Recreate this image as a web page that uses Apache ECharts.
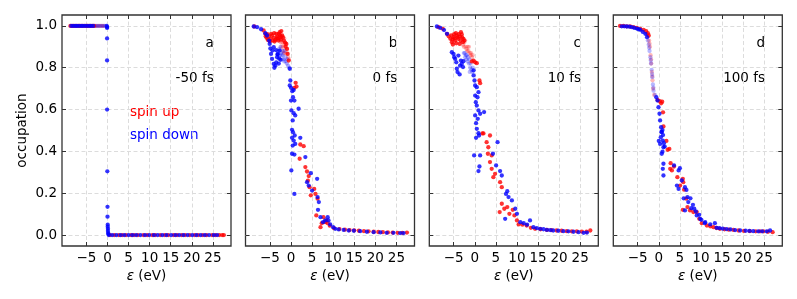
<!DOCTYPE html>
<html><head><meta charset="utf-8">
<script src="https://cdn.jsdelivr.net/npm/echarts@6/dist/echarts.min.js"></script>
<style>html,body{margin:0;padding:0;background:#fff}#c{width:797px;height:299px}</style>
</head><body><div id="c"></div>
<script>
// ---------- data ----------
const xTicks = [-5, 0, 5, 10, 15, 20, 25];
const yTicks = [0, 0.2, 0.4, 0.6, 0.8, 1.0];
const panelLetters = ['a', 'b', 'c', 'd'];
const panelTimes = ['-50 fs', '0 fs', '10 fs', '100 fs'];
const legendNames = ['spin up', 'spin down'];

// panel a (-50 fs)
const upA = [[-8.8,1],[-8.3,1],[-7.9,1],[-7.4,1],[-6.9,1],[-6.5,1],[-6.0,1],[-5.5,1],[-5.0,1],[-4.6,1],[-4.1,1],[-3.6,1],[-3.2,1],
 [0.6,0],[1.6,0],[2.7,0],[3.5,0],[4.4,0],[5.6,0],[6.3,0],[7.2,0],[8.5,0],[9.4,0],[10.6,0],[11.3,0],[12.5,0],[13.6,0],[14.4,0],[15.7,0],[16.5,0],[17.6,0],[18.4,0],[19.5,0],[20.7,0],[21.5,0],[22.6,0],[23.5,0],[24.8,0],[25.6,0],[26.5,0],[27.2,0],[27.6,0]];
const downA = [[-8.6,1],[-8.1,1],[-7.6,1],[-7.2,1],[-6.7,1],[-6.2,1],[-5.8,1],[-5.3,1],[-4.8,1],[-4.3,1],[-3.9,1],[-3.4,1],
 [-0.2,1],[-0.1,0.995],[-0.1,0.99],[-0.1,0.94],[-0.1,0.835],[-0.1,0.6],[-0.05,0.305],[0,0.135],[0,0.088],[0.05,0.05],[0.05,0.04],[0.1,0.03],[0.1,0.02],[0.15,0.01],[0.2,0.005],
 [0.3,0],[1.1,0],[2.1,0],[3.1,0],[4.0,0],[5.0,0],[5.9,0],[6.8,0],[7.8,0],[8.9,0],[9.9,0],[11.0,0],[11.9,0],[13.0,0],[14.0,0],[15.1,0],[16.1,0],[17.0,0],[18.0,0],[19.0,0],[20.1,0],[21.1,0],[22.1,0],[23.1,0],[24.1,0],[25.2,0],[26.0,0]];
const upFadedA = [[-2.8,1],[-2.4,1],[-2.0,1],[-1.6,1],[-1.2,1],[-0.8,1]];
const downFadedA = [[-3.0,1],[-2.6,1],[-2.2,1],[-1.8,1],[-1.4,1],[-1.0,1],[-0.6,1]];

// panel b (0 fs)
const upB = [[-8.7,0.997],[-6.5,0.978],[-6.1,0.962],[-6.0,0.95],[-5.8,0.943],[-5.6,0.96],[-5.5,0.933],[-5.3,0.95],[-5.0,0.925],[-4.9,0.938],[-4.7,0.962],[-4.5,0.954],[-4.3,0.93],[-4.1,0.943],[-4.0,0.965],[-3.9,0.925],[-3.7,0.933],[-3.5,0.962],[-3.4,0.94],[-3.3,0.95],[-3.1,0.94],[-3.0,0.93],[-2.9,0.962],[-2.7,0.97],[-2.6,0.955],[-2.5,0.946],[-2.4,0.935],[-2.3,0.975],[-2.1,0.954],[-1.9,0.945],[-1.7,0.93],[-1.4,0.92],[-1.3,0.9],[-1.1,0.914],[-0.95,0.89],[-0.8,0.866],[-0.55,0.834],
 [0.8,0.704],[1.1,0.728],[1.3,0.71],[2.2,0.433],[3.0,0.425],[2.05,0.365],[3.4,0.325],[3.8,0.304],[4.2,0.282],[4.0,0.26],[4.4,0.229],[4.7,0.19],[5.5,0.221],[5.8,0.197],[6.3,0.174],[6.0,0.094],[7.0,0.038],[7.3,0.057],[7.7,0.086],[8.1,0.062],[8.4,0.07],[8.7,0.057],[9.2,0.045],
 [10.2,0.033],[11.5,0.029],[12.8,0.026],[13.9,0.024],[15.0,0.023],[16.1,0.021],[17.3,0.019],[18.4,0.018],[19.6,0.016],[20.7,0.015],[21.8,0.014],[23.0,0.013],[24.1,0.012],[25.3,0.011],[26.4,0.011],[27.5,0.012]];
const downB = [[-8.85,0.997],[-8.06,0.994],[-7.1,0.984],[-6.1,0.965],[-5.7,0.954],[-5.2,0.93],[-5.06,0.914],[-4.9,0.892],[-4.74,0.866],[-4.5,0.842],[-4.4,0.882],[-4.1,0.818],[-4.1,0.898],[-3.95,0.8],[-3.7,0.81],[-3.55,0.884],[-3.5,0.826],[-3.3,0.85],[-3.2,0.863],[-3.16,0.866],[-2.9,0.82],[-2.8,0.844],[-2.7,0.882],[-2.5,0.838],
 [-0.3,0.795],[-0.16,0.739],[-0.3,0.715],[0.0,0.704],[0.3,0.688],[0.63,0.694],[0.47,0.659],[0.0,0.643],[0.8,0.643],[0.08,0.596],[0.63,0.583],[1.0,0.572],[1.8,0.604],[0.4,0.548],[0.24,0.503],[0.47,0.492],[0.87,0.476],[0.24,0.465],[0.63,0.452],[0.4,0.428],[1.0,0.436],[0.24,0.389],[0.8,0.385],[0.08,0.309],[0.8,0.197],
 [2.2,0.465],[3.4,0.373],[3.8,0.253],[4.2,0.237],[4.7,0.296],[5.0,0.213],[6.2,0.269],[6.3,0.182],[6.6,0.158],[6.4,0.121],[7.0,0.086],[7.6,0.062],[8.1,0.07],[8.7,0.086],[8.9,0.07],[9.3,0.051],[10.0,0.038],[10.5,0.03],[11.3,0.027],[12.5,0.025],[13.7,0.022],[14.9,0.021],[16.4,0.019],[18.0,0.016],[19.6,0.014],[21.2,0.013],[22.7,0.011],[24.3,0.011],[25.9,0.01],[26.7,0.01]];
const upFadedB = [[-2.8,0.94],[-2.6,0.93],[-2.4,0.92],[-2.3,0.9],[-2.2,0.95],[-2.0,0.92],[-1.9,0.9],[-1.8,0.88],[-1.7,0.87],[-1.6,0.94],[-1.5,0.91],[-1.3,0.87],[-1.2,0.91],[-1.0,0.89],[-0.9,0.87],[-0.7,0.85],[-0.5,0.84]];
const downFadedB = [[-3.0,0.88],[-2.8,0.89],[-2.7,0.86],[-2.5,0.9],[-2.4,0.87],[-2.2,0.86],[-2.1,0.84],[-2.0,0.88],[-1.9,0.86],[-1.8,0.84],[-1.6,0.83],[-1.5,0.88],[-1.3,0.85],[-1.2,0.83],[-1.0,0.82],[-0.9,0.84],[-0.7,0.81],[-0.4,0.8]];

// panel c (10 fs)
const upC = [[-8.6,0.994],[-7.6,0.986],[-6.6,0.962],[-6.2,0.95],[-5.8,0.938],[-5.6,0.955],[-5.45,0.922],[-5.3,0.935],[-5.2,0.911],[-5.05,0.946],[-4.9,0.96],[-4.8,0.94],[-4.66,0.93],[-4.5,0.965],[-4.4,0.917],[-4.27,0.954],[-4.1,0.945],[-3.9,0.938],[-3.8,0.96],[-3.6,0.914],[-3.5,0.949],[-3.4,0.93],[-3.3,0.97],[-3.1,0.959],[-3.0,0.945],[-2.84,0.922],[-2.7,0.938],[-2.5,0.93],
 [-0.7,0.83],[-0.3,0.834],[0.08,0.826],[0.47,0.822],[1.1,0.739],[1.26,0.726],
 [1.8,0.486],[2.05,0.486],[2.8,0.444],[3.6,0.476],[3.2,0.42],[3.1,0.389],[4.0,0.381],[3.6,0.349],[4.0,0.317],[4.4,0.277],[4.8,0.293],[6.0,0.253],[6.4,0.229],[6.4,0.15],[5.9,0.11],[7.0,0.126],[7.7,0.134],[8.2,0.102],[9.0,0.121],[9.4,0.094],[10.0,0.07],[10.4,0.051],[11.3,0.05],[12.3,0.046],[13.3,0.035],[14.3,0.03],[15.6,0.028],[17.1,0.025],[18.2,0.024],[19.4,0.022],[20.6,0.021],[21.8,0.019],[23.0,0.018],[24.2,0.018],[25.4,0.017],[26.5,0.016],[27.4,0.022]];
const downC = [[-9.0,0.997],[-8.2,0.99],[-7.3,0.98],[-6.6,0.962],[-5.45,0.874],[-5.05,0.866],[-4.9,0.85],[-4.66,0.842],[-4.4,0.826],[-4.27,0.795],[-4.1,0.779],[-3.9,0.858],[-3.6,0.768],[-3.5,0.81],[-3.3,0.834],[-3.1,0.818],[-2.8,0.803],[-2.7,0.831],
 [-0.3,0.787],[-0.3,0.763],[-0.08,0.739],[0.08,0.715],[0.47,0.707],[0.87,0.683],[0.08,0.667],[0.63,0.659],[0.24,0.635],[0.47,0.619],[0.87,0.596],[0.08,0.572],[0.7,0.556],[0.3,0.535],[1.26,0.58],[2.2,0.588],[0.47,0.508],[0.87,0.487],[0.3,0.465],[1.0,0.476],[-0.16,0.381],[1.26,0.381],[1.1,0.328],[0.87,0.306],
 [5.4,0.444],[4.3,0.389],[5.05,0.333],[6.0,0.306],[6.4,0.285],[7.7,0.21],[7.4,0.197],[8.0,0.182],[7.2,0.078],[8.8,0.166],[9.6,0.126],[10.0,0.102],[10.8,0.062],[11.6,0.057],[13.1,0.07],[12.4,0.05],[13.9,0.038],[14.7,0.033],[15.5,0.03],[16.3,0.028],[17.1,0.025],[17.9,0.024],[18.6,0.022],[19.8,0.021],[21.0,0.019],[22.2,0.018],[23.4,0.016],[24.6,0.014],[25.8,0.011],[26.6,0.012]];
const upFadedC = [[-2.8,0.91],[-2.6,0.9],[-2.5,0.92],[-2.3,0.93],[-2.2,0.9],[-2.0,0.89],[-1.8,0.88],[-1.7,0.9],[-1.5,0.88],[-1.4,0.9],[-1.2,0.87],[-1.0,0.86],[-0.9,0.87],[-0.7,0.85],[-0.5,0.86]];
const downFadedC = [[-2.6,0.87],[-2.4,0.87],[-2.3,0.85],[-2.1,0.86],[-2.0,0.84],[-1.9,0.86],[-1.7,0.83],[-1.6,0.85],[-1.4,0.82],[-1.3,0.84],[-1.2,0.78],[-1.1,0.8],[-1.0,0.82],[-0.8,0.79],[-0.6,0.78],[-0.5,0.8]];

// panel d (100 fs)
const upD = [[-9.2,1.0],[-8.4,1.0],[-7.6,0.998],[-6.8,0.997],[-6.0,0.994],[-5.2,0.99],[-4.4,0.986],[-3.6,0.981],[-3.0,0.975],[-2.6,0.965],[-2.4,0.954],
 [-0.3,0.646],[0.24,0.64],[0.55,0.63],[0.8,0.638],[1.0,0.587],[1.1,0.519],[1.8,0.45],[2.1,0.408],[2.5,0.412],[2.8,0.344],[2.7,0.317],[3.6,0.328],[3.1,0.309],[4.4,0.277],[5.7,0.269],[5.8,0.253],[5.05,0.237],[6.0,0.217],[6.5,0.174],[5.7,0.121],[6.8,0.134],[7.4,0.118],[8.2,0.11],[9.0,0.11],[9.6,0.078],[10.2,0.057],[11.4,0.046],[12.2,0.042],[12.95,0.038],[13.7,0.034],[14.5,0.03],[15.6,0.028],[16.6,0.026],[17.7,0.025],[18.9,0.022],[20.2,0.02],[21.6,0.019],[23.0,0.018],[24.0,0.018],[24.8,0.018],[25.9,0.016],[27.0,0.014]];
const downD = [[-8.8,0.998],[-8.2,0.998],[-7.6,0.997],[-7.0,0.996],[-6.4,0.994],[-5.8,0.99],[-5.2,0.987],[-4.8,0.984],[-4.4,0.981],[-3.8,0.971],[-3.2,0.962],[-2.8,0.946],
 [-0.6,0.659],[-0.3,0.643],[-0.08,0.611],[0.16,0.58],[0.3,0.548],[0.55,0.516],[0.7,0.492],[0.47,0.468],[0.95,0.452],[0.3,0.436],[1.1,0.42],[0.7,0.389],[1.1,0.341],[0.95,0.317],[1.1,0.285],[0.63,0.494],[0.87,0.502],[1.0,0.478],[0.0,0.45],[1.2,0.439],[1.4,0.423],[0.87,0.399],
 [3.6,0.333],[4.7,0.309],[4.3,0.237],[4.7,0.221],[5.45,0.261],[5.0,0.32],[6.2,0.229],[6.55,0.216],[5.9,0.176],[6.8,0.182],[7.0,0.158],[7.5,0.176],[7.7,0.129],[6.2,0.118],[8.1,0.145],[8.4,0.126],[8.8,0.113],[9.0,0.094],[9.6,0.097],[9.8,0.078],[10.1,0.073],[10.9,0.057],[11.0,0.062],[12.2,0.051],[13.3,0.057],[13.7,0.035],[14.4,0.033],[15.2,0.031],[16.1,0.029],[17.0,0.027],[18.1,0.024],[19.3,0.022],[20.6,0.021],[21.5,0.02],[22.4,0.019],[23.6,0.018],[24.5,0.018],[25.6,0.018],[26.4,0.022]];
const upFadedD = [[-2.5,0.95],[-2.3,0.93],[-2.2,0.915],[-2.1,0.9],[-1.95,0.86],[-1.85,0.84],[-1.8,0.82],[-1.65,0.78],[-1.55,0.76],[-1.5,0.74],[-1.35,0.7],[-1.1,0.67]];
const downFadedD = [[-2.9,0.96],[-2.6,0.93],[-2.4,0.91],[-2.3,0.895],[-2.2,0.88],[-2.0,0.85],[-1.9,0.835],[-1.85,0.82],[-1.7,0.79],[-1.6,0.77],[-1.55,0.755],[-1.4,0.72],[-1.3,0.705],[-1.25,0.69],[-0.9,0.67]];

const upSets = [upA, upB, upC, upD];
const downSets = [downA, downB, downC, downD];
const upFadedSets = [upFadedA, upFadedB, upFadedC, upFadedD];
const downFadedSets = [downFadedA, downFadedB, downFadedC, downFadedD];

// ---------- layout / style ----------
const FONT = 'DejaVu Sans';
const FS = 13.5;
const RED = '#ff0000', BLUE = '#0000ff';
const XMIN = -10.8, XMAX = 29.3, YMIN = -0.052, YMAX = 1.052;
const lefts = [62, 245.5, 429.3, 613.3];
const W = 169, TOP = 15, H = 231;
const FRAME = '#333333';

const fmtX = v => v < 0 ? '\u2212' + Math.abs(v) : String(v);
const fmtY = v => v.toFixed(1);

const grids = [], xAxes = [], yAxes = [], series = [], graphics = [];
lefts.forEach((l, i) => {
  grids.push({ left: l, top: TOP, width: W, height: H, show: true, borderColor: FRAME, borderWidth: 1.3, backgroundColor: 'transparent' });
  const tick = { show: true, inside: true, length: 4, lineStyle: { color: FRAME, width: 1 } };
  const noLine = { show: false, onZero: false };
  xAxes.push({
    gridIndex: i, type: 'value', min: XMIN, max: XMAX, position: 'bottom',
    axisLine: noLine,
    axisTick: Object.assign({ customValues: xTicks }, tick),
    axisLabel: { show: true, customValues: xTicks, formatter: fmtX, margin: 5, color: '#000', fontSize: FS, fontFamily: FONT },
    splitLine: { show: true, lineStyle: { color: '#dcdcdc', width: 1, type: [4, 2.5] } },
    name: '{i|\u03b5} (eV)', nameLocation: 'middle', nameGap: 21,
    nameTextStyle: { color: '#000', fontSize: FS, fontFamily: FONT, rich: { i: { fontStyle: 'italic', fontSize: FS, fontFamily: FONT, color: '#000' } } }
  });
  xAxes.push({
    gridIndex: i, type: 'value', min: XMIN, max: XMAX, position: 'top',
    axisLine: noLine,
    axisTick: Object.assign({ customValues: xTicks }, tick),
    axisLabel: { show: false }, splitLine: { show: false }
  });
  yAxes.push({
    gridIndex: i, type: 'value', min: YMIN, max: YMAX, position: 'left',
    axisLine: noLine,
    axisTick: Object.assign({ customValues: yTicks }, tick),
    axisLabel: { show: i === 0, customValues: yTicks, formatter: fmtY, margin: 5, color: '#000', fontSize: FS, fontFamily: FONT },
    splitLine: { show: true, lineStyle: { color: '#dcdcdc', width: 1, type: [4, 2.5] } }
  });
  yAxes.push({
    gridIndex: i, type: 'value', min: YMIN, max: YMAX, position: 'right',
    axisLine: noLine,
    axisTick: Object.assign({ customValues: yTicks }, tick),
    axisLabel: { show: false }, splitLine: { show: false }
  });
  const base = { type: 'scatter', xAxisIndex: 2 * i, yAxisIndex: 2 * i, symbol: 'circle', symbolSize: 4.3, silent: true };
  series.push(Object.assign({}, base, { data: upFadedSets[i], itemStyle: { color: RED, opacity: 0.28 } }));
  series.push(Object.assign({}, base, { data: downFadedSets[i], itemStyle: { color: BLUE, opacity: 0.28 } }));
  series.push(Object.assign({}, base, { data: upSets[i], itemStyle: { color: RED } }));
  series.push(Object.assign({}, base, { data: downSets[i], itemStyle: { color: BLUE } }));

  const rx = l + W - 17.3;
  graphics.push({ type: 'text', x: rx, y: 43.6, style: { text: panelLetters[i], fill: '#000', font: FS + 'px "' + FONT + '"', align: 'right', verticalAlign: 'middle' } });
  graphics.push({ type: 'text', x: rx, y: 78.6, style: { text: panelTimes[i], fill: '#000', font: FS + 'px "' + FONT + '"', align: 'right', verticalAlign: 'middle' } });
});
graphics.push({ type: 'text', x: 130, y: 112.6, style: { text: legendNames[0], fill: RED, font: FS + 'px "' + FONT + '"', align: 'left', verticalAlign: 'middle' } });
graphics.push({ type: 'text', x: 130, y: 135.3, style: { text: legendNames[1], fill: BLUE, font: FS + 'px "' + FONT + '"', align: 'left', verticalAlign: 'middle' } });
graphics.push({ type: 'text', x: 22, y: 130.5, rotation: Math.PI / 2, style: { text: 'occupation', fill: '#000', font: FS + 'px "' + FONT + '"', align: 'center', verticalAlign: 'middle' } });

const chart = echarts.init(document.getElementById('c'), null, { renderer: 'canvas' });
chart.setOption({
  animation: false,
  backgroundColor: '#ffffff',
  grid: grids, xAxis: xAxes, yAxis: yAxes, series: series, graphic: graphics
});
</script>
</body></html>
